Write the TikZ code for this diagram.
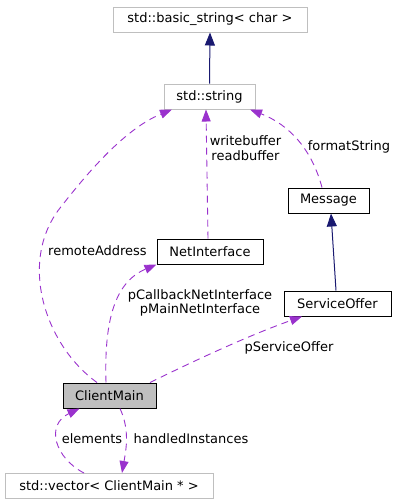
\documentclass[tikz,border=0pt]{standalone}
\usepackage{fontspec}
\setmainfont{DejaVu Sans}
\usetikzlibrary{arrows.meta,calc}
\definecolor{usecol}{HTML}{9A32CD}
\definecolor{inhcol}{HTML}{191970}
\definecolor{graybd}{HTML}{BFBFBF}
\begin{document}
\begin{tikzpicture}[x=1pt,y=-1pt,
  font=\fontsize{13}{14.5}\selectfont,
  box/.style={draw=black, line width=1pt, fill=white, inner sep=0pt, minimum height=25pt},
  ext/.style={box, draw=graybd},
  inh/.style={draw=inhcol, line width=1pt, -{Triangle[length=13pt,width=10pt]}},
  use/.style={draw=usecol, line width=0.9pt, dash pattern=on 7pt off 5pt, -{Triangle[length=12pt,width=9pt]}},
  lbl/.style={inner sep=0pt, align=center}]
\useasboundingbox (0,0) rectangle (416,504);
\node[ext, minimum width=194pt] (bs) at (210,19.5) {std::basic\_string< char >};
\node[ext, minimum width=91pt] (str) at (209.5,96.5) {std::string};
\node[box, minimum width=81pt] (msg) at (328.5,200.5) {Message};
\node[box, minimum width=106pt] (ni) at (210,251.5) {NetInterface};
\node[box, minimum width=107pt] (so) at (337.5,303.5) {ServiceOffer};
\node[box, fill=graybd, minimum width=93pt] (cm) at (109.5,395.5) {ClientMain};
\node[ext, minimum width=208pt] (vec) at (109,486) {std::vector< ClientMain * >};
% inheritance
\draw[inh] (str.north) -- (bs.south);
\draw[inh] ([xshift=-1.5pt]so.north) -- ([xshift=2.5pt]msg.south);
% usage
\draw[use] ([xshift=-12.5pt]cm.north) .. controls (45,345) and (18,262) .. (60,208)
  .. controls (82,180) and (122,130) .. ([xshift=-37.5pt]str.south);
\draw[use] ([xshift=-2pt]ni.north) -- ([xshift=-3.5pt]str.south);
\draw[use] ([xshift=-6.5pt]msg.north) .. controls (312,150) and (290,125) .. ([xshift=40.5pt]str.south);
\draw[use] ([xshift=-3.5pt]cm.north) .. controls (104,320) and (115,282) .. (ni.south west);
\draw[use] ([xshift=40.5pt]cm.north) .. controls (200,358) and (250,335) .. ([xshift=-35.5pt]so.south);
\draw[use] ([xshift=10.5pt]cm.south) .. controls (130,430) and (126,450) .. ([xshift=13pt]vec.north);
\draw[use] ([xshift=-25pt]vec.north) .. controls (55,458) and (45,425) .. ([xshift=-30pt]cm.south);
% labels
\node[lbl] (l1) at (97.5,251) {remoteAddress};
\node[lbl] (l2) at (245.5,148) {writebuffer\\readbuffer};
\node[lbl] (l3) at (349,147) {formatString};
\node[lbl] (l4) at (200,303) {pCallbackNetInterface\\pMainNetInterface};
\node[lbl] (l5) at (289,348) {pServiceOffer};
\node[lbl] (l6) at (92,439) {elements};
\node[lbl] (l7) at (191,439) {handledInstances};
\end{tikzpicture}
\end{document}
